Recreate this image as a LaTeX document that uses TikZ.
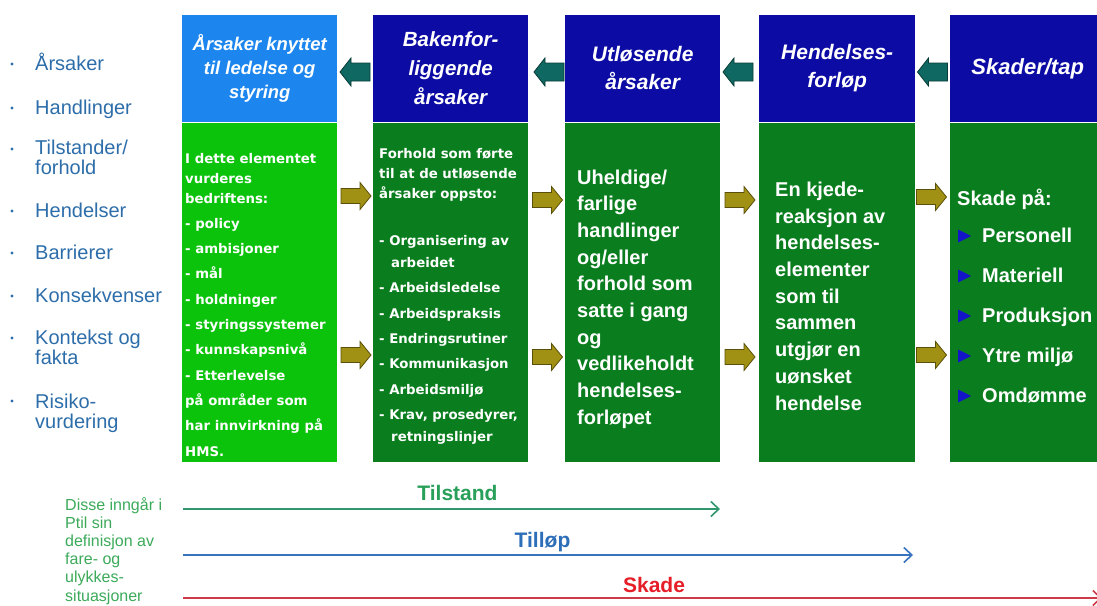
\documentclass[tikz,border=0pt]{standalone}
\usepackage{fontspec}
\setmainfont{Liberation Sans}
\newfontfamily\dejavu{DejaVu Sans}
\usetikzlibrary{arrows.meta}
\definecolor{hdark}{RGB}{12,12,165}
\definecolor{hlight}{RGB}{28,134,238}
\definecolor{gdark}{RGB}{10,125,30}
\definecolor{glight}{RGB}{12,195,12}
\definecolor{listblue}{RGB}{45,110,170}
\definecolor{notegreen}{RGB}{60,170,90}
\definecolor{tealf}{RGB}{16,104,98}
\definecolor{teald}{RGB}{8,60,55}
\definecolor{olivef}{RGB}{160,145,20}
\definecolor{olived}{RGB}{90,80,10}
\definecolor{triblue}{RGB}{20,20,200}
\definecolor{tline}{RGB}{50,150,110}
\definecolor{tlab}{RGB}{40,160,90}
\definecolor{bline}{RGB}{55,115,190}
\definecolor{blab}{RGB}{45,110,185}
\definecolor{rline}{RGB}{205,60,70}
\definecolor{rlab}{RGB}{230,30,40}
\tikzset{
  hbox/.style={rectangle, draw=none, inner sep=0pt, anchor=north west, minimum height=106.5pt,
    align=center, text=white, font=\bfseries\itshape\fontsize{21}{28}\selectfont},
  gbox/.style={rectangle, draw=none, inner sep=0pt, anchor=north west, minimum height=339pt},
  lst/.style={anchor=base west, inner sep=0pt, align=left, text=listblue, font=\fontsize{20}{20}\selectfont},
  smalltxt/.style={anchor=base west, inner sep=0pt, align=left, text=white, font={\dejavu\bfseries\fontsize{13.3}{25.3}\selectfont}},
  bigtxt/.style={anchor=base west, inner sep=0pt, align=left, text=white, font={\bfseries\fontsize{20}{26.7}\selectfont}},
  notetxt/.style={anchor=base west, inner sep=0pt, align=left, text=notegreen, font=\fontsize{16}{18.2}\selectfont},
  lbl/.style={anchor=base, inner sep=0pt, font=\bfseries\fontsize{21}{21}\selectfont},
  flow/.style={line width=1.6pt, -{Straight Barb[length=8pt,width=15pt]}},
  rarrow/.pic={\filldraw[fill=olivef, draw=olived, line width=0.8pt]
     (-15,-7.5) -- (4,-7.5) -- (4,-13.5) -- (15,0) -- (4,13.5) -- (4,7.5) -- (-15,7.5) -- cycle;},
  larrow/.pic={\filldraw[fill=tealf, draw=teald, line width=0.8pt]
     (15,-9) -- (-4,-9) -- (-4,-14) -- (-15,0) -- (-4,14) -- (-4,9) -- (15,9) -- cycle;}
}
\begin{document}
\begin{tikzpicture}[x=1pt,y=-1pt]
\useasboundingbox (0,0) rectangle (1097,605);
\clip (0,0) rectangle (1097,605);
\fill[white] (0,0) rectangle (1097,605);

% left list (anchor = baseline of the last line)
\foreach \yy in {64,108,149,211,253,296,338,401}{\fill[listblue] (12,\yy) circle (1.6pt);}
\node[lst] (l1) at (35,70) {Årsaker};
\node[lst] (l2) at (35,114) {Handlinger};
\node[lst] (l3) at (35,174) {Tilstander/\\forhold};
\node[lst] (l4) at (35,217) {Hendelser};
\node[lst] (l5) at (35,259) {Barrierer};
\node[lst] (l6) at (35,302) {Konsekvenser};
\node[lst] (l7) at (35,364) {Kontekst og\\fakta};
\node[lst] (l8) at (35,428) {Risiko-\\vurdering};

% headers
\node[hbox, fill=hlight, minimum width=155pt, font=\bfseries\itshape\fontsize{18.4}{24}\selectfont] (h1) at (182,15) {Årsaker knyttet\\til ledelse og\\styring};
\node[hbox, fill=hdark, minimum width=155pt, font=\bfseries\itshape\fontsize{20.5}{29}\selectfont] (h2) at (373,15) {Bakenfor-\\liggende\\årsaker};
\node[hbox, fill=hdark, minimum width=155pt] (h3) at (565,15) {Utløsende\\årsaker};
\node[hbox, fill=hdark, minimum width=156pt] (h4) at (759,15) {Hendelses-\\forløp};
\node[hbox, fill=hdark, minimum width=155pt, font=\bfseries\itshape\fontsize{22}{28}\selectfont] (h5) at (950,15) {Skader/tap};

% bodies
\node[gbox, fill=glight, minimum width=155pt] (g1) at (182,123) {};
\node[gbox, fill=gdark, minimum width=155pt] (g2) at (373,123) {};
\node[gbox, fill=gdark, minimum width=155pt] (g3) at (565,123) {};
\node[gbox, fill=gdark, minimum width=156pt] (g4) at (759,123) {};
\node[gbox, fill=gdark, minimum width=155pt] (g5) at (950,123) {};

\node[smalltxt] (b1) at (185,456) {I dette elementet\\[-5.3pt]vurderes\\[-5.3pt]bedriftens:\\- policy\\- ambisjoner\\- mål\\- holdninger\\- styringssystemer\\- kunnskapsnivå\\- Etterlevelse\\på områder som\\har innvirkning på\\HMS.};
\node[smalltxt] (b2) at (379,441.7) {Forhold som førte\\[-5.3pt]til at de utløsende\\[-5.3pt]årsaker oppsto:\\[22pt]- Organisering av\\[-3pt]\hspace*{12pt}arbeidet\\- Arbeidsledelse\\- Arbeidspraksis\\- Endringsrutiner\\- Kommunikasjon\\- Arbeidsmiljø\\- Krav, prosedyrer,\\[-3pt]\hspace*{12pt}retningslinjer};
\node[bigtxt] (b3) at (577,424.3) {Uheldige/\\farlige\\handlinger\\og/eller\\forhold som\\satte i gang\\og\\vedlikeholdt\\hendelses-\\forløpet};
\node[bigtxt] (b4) at (775,410) {En kjede-\\reaksjon av\\hendelses-\\elementer\\som til\\sammen\\utgjør en\\uønsket\\hendelse};
\node[bigtxt] (b5) at (957,205) {Skade på:};
\node[bigtxt, font={\bfseries\fontsize{20}{40}\selectfont}] (b5l) at (982,402) {Personell\\Materiell\\Produksjon\\Ytre miljø\\Omdømme};
\foreach \yy in {236,276,316,356,396}{\fill[triblue] (958,\yy-6.5) -- (971,\yy) -- (958,\yy+6.5) -- cycle;}

% arrows between columns
\pic at (355,72) {larrow};
\pic at (549,72) {larrow};
\pic at (738,72) {larrow};
\pic at (932.5,72) {larrow};
\pic at (356,196) {rarrow};
\pic at (356,355) {rarrow};
\pic at (547.5,200) {rarrow};
\pic at (547.5,357) {rarrow};
\pic at (740,200) {rarrow};
\pic at (740,357) {rarrow};
\pic at (931.5,197) {rarrow};
\pic at (931.5,355) {rarrow};

% bottom
\node[notetxt] (note) at (65,601) {Disse inngår i\\Ptil sin\\definisjon av\\fare- og\\ulykkes-\\situasjoner};
\coordinate (ts) at (183,509); \coordinate (te) at (720,509);
\coordinate (bs) at (183,555); \coordinate (be) at (913,555);
\coordinate (rs) at (183,598); \coordinate (re) at (1102,598);
\draw[flow, tline] (ts) -- (te);
\draw[flow, bline] (bs) -- (be);
\draw[flow, rline] (rs) -- (re);
\node[lbl, text=tlab] (tl) at (457.5,500) {Tilstand};
\node[lbl, text=blab] (bl) at (542.5,547) {Tilløp};
\node[lbl, text=rlab] (rl) at (654,592) {Skade};
\end{tikzpicture}
\end{document}
